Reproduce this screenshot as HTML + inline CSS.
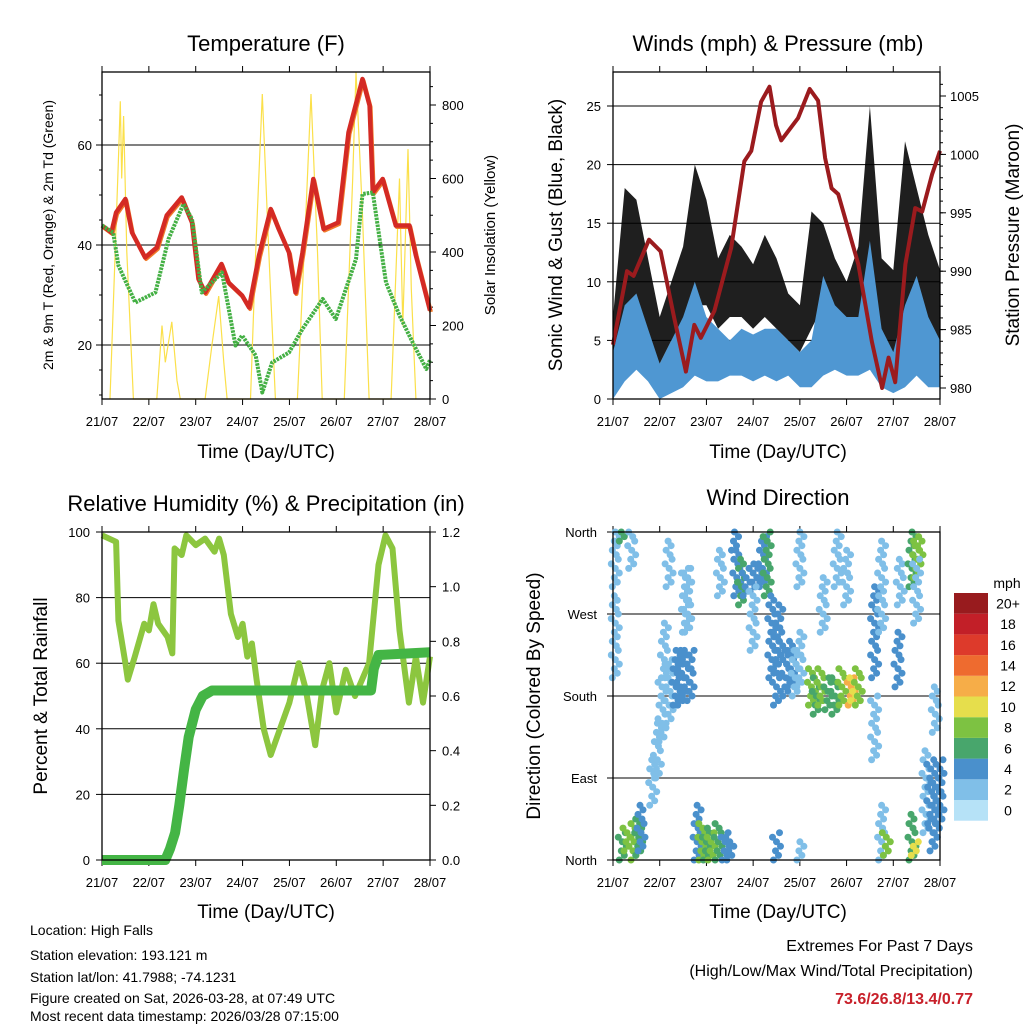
<!DOCTYPE html>
<html><head><meta charset="utf-8"><style>
html,body{margin:0;padding:0;background:#fff;}
svg{display:block;font-family:"Liberation Sans",sans-serif;}
</style></head><body>
<svg id="s" width="1024" height="1024" viewBox="0 0 1024 1024" xmlns="http://www.w3.org/2000/svg">
<rect width="1024" height="1024" fill="#fff"/>
<g id="g1"></g>
<g id="g2"></g>
<g id="g3"></g>
<g id="g4"></g>
<text x="266" y="51" font-size="22" text-anchor="middle">Temperature (F)</text>
<text x="778" y="51" font-size="22" text-anchor="middle">Winds (mph) &amp; Pressure (mb)</text>
<text x="266" y="511" font-size="22" text-anchor="middle">Relative Humidity (%) &amp; Precipitation (in)</text>
<text x="778" y="505" font-size="22" text-anchor="middle">Wind Direction</text>
<text x="266" y="458" font-size="19" text-anchor="middle">Time (Day/UTC)</text>
<text x="778" y="458" font-size="19" text-anchor="middle">Time (Day/UTC)</text>
<text x="266" y="918" font-size="19" text-anchor="middle">Time (Day/UTC)</text>
<text x="778" y="918" font-size="19" text-anchor="middle">Time (Day/UTC)</text>
<text transform="translate(53,235) rotate(-90)" font-size="14" text-anchor="middle">2m &amp; 9m T (Red, Orange) &amp; 2m Td (Green)</text>
<text transform="translate(495,235) rotate(-90)" font-size="15" text-anchor="middle">Solar Insolation (Yellow)</text>
<text transform="translate(562,235) rotate(-90)" font-size="19" text-anchor="middle">Sonic Wind &amp; Gust (Blue, Black)</text>
<text transform="translate(1019,235) rotate(-90)" font-size="19" text-anchor="middle">Station Pressure (Maroon)</text>
<text transform="translate(47,696) rotate(-90)" font-size="19" text-anchor="middle">Percent &amp; Total Rainfall</text>
<text transform="translate(540,696) rotate(-90)" font-size="19" text-anchor="middle">Direction (Colored By Speed)</text>
<g font-size="14">
<text x="30" y="935">Location: High Falls</text>
<text x="30" y="960">Station elevation: 193.121 m</text>
<text x="30" y="982">Station lat/lon: 41.7988; -74.1231</text>
<text x="30" y="1003">Figure created on Sat, 2026-03-28, at 07:49 UTC</text>
<text x="30" y="1021">Most recent data timestamp: 2026/03/28 07:15:00</text>
</g>
<g font-size="16" text-anchor="end">
<text x="973" y="951">Extremes For Past 7 Days</text>
<text x="973" y="976">(High/Low/Max Wind/Total Precipitation)</text>
<text x="973" y="1004" fill="#c8202a" font-weight="bold">73.6/26.8/13.4/0.77</text>
</g>
<text x="1007" y="588" font-size="14" text-anchor="middle">mph</text>
<g id="cb"></g>
</svg>
<script>
// ---- data ----
const dayLabels=["21/07","22/07","23/07","24/07","25/07","26/07","27/07","28/07"];
const tTemp=[0,0.2,0.3,0.5,0.64,0.92,1.17,1.38,1.7,1.92,2.06,2.2,2.55,2.7,2.99,3.14,3.35,3.6,3.77,3.99,4.13,4.28,4.51,4.73,5.04,5.26,5.56,5.71,5.78,5.99,6.27,6.56,6.7,7.0];
const temp=[43.9,42.5,46.5,49.2,42.5,37.5,39.5,45.9,49.5,44.5,33.2,30.5,36.2,32.5,29.9,27.5,37.9,47.2,43.2,38.5,30.5,38.5,53.2,43.2,44.5,62.5,73.2,67.9,50.5,53.2,43.9,43.9,37.9,26.9];
const tDew=[0,0.24,0.35,0.71,1.14,1.42,1.74,1.92,2.13,2.56,2.85,2.99,3.28,3.42,3.63,3.99,4.28,4.71,4.99,5.42,5.56,5.78,6.06,6.35,6.63,6.92,7.0];
const dew=[43.9,42.5,35.9,28.5,30.5,41.2,48.2,45.2,30.5,34.5,19.9,21.9,17.9,10.5,16.5,18.5,23.2,29.2,25.2,37.2,50.2,50.5,32.5,25.9,20.5,15.2,17.0];
const tSolar=[0.17,0.35,0.39,0.42,0.46,0.53,0.67,1.17,1.28,1.35,1.49,1.6,1.67,2.2,2.35,2.49,2.6,2.67,3.17,3.28,3.42,3.56,3.7,4.17,4.35,4.46,4.6,4.7,5.17,5.35,5.42,5.56,5.7,6.17,6.35,6.42,6.53,6.6,6.7];
const solar=[0,650,810,600,770,400,0,0,200,100,210,50,0,0,150,280,100,0,0,400,830,400,0,0,500,830,400,0,0,600,890,500,0,0,600,200,680,300,0];
const tWind=[0,.25,.5,.75,1,1.25,1.5,1.75,2,2.25,2.5,2.75,3,3.25,3.5,3.75,4,4.25,4.5,4.75,5,5.25,5.5,5.75,6,6.25,6.5,6.75,7];
const windHigh=[4,8,9,6,3,5,7,10,7,6,5,6,5.5,6,6,5,4,5,10.5,8,7,7,13.5,6,4,8,10.5,7,5];
const windLow=[0,1.5,2.5,1.5,0,0.5,1,2,1.5,1.5,2,2,1.5,2,1.5,2,1,1,2,2.5,2,2,2.5,1,0.5,1,2,1,1];
const gustHigh=[7,18,17,12,7,10,13,20,17,12,14,13,11.5,14,12,9,8,16,15,12,10,13,25,12,11,22,18,14,11];
const gustLow=[4,6,8,5,3,5,6,8,8,6,7,7,6,7,6,5,4,6,8,7,5,6,9,4,3,5,8,6,5];
const tPres=[0,0.3,0.44,0.77,1.02,1.31,1.56,1.74,1.88,2.17,2.53,2.81,2.96,3.17,3.35,3.49,3.6,3.96,4.21,4.39,4.54,4.68,4.82,5.25,5.54,5.76,5.9,6.04,6.26,6.47,6.62,6.83,7.0];
const pres=[983.7,990.0,989.6,992.7,991.7,986.0,981.4,985.4,984.3,986.6,992.0,999.4,1000.3,1004.5,1005.8,1002.5,1001.2,1003.1,1005.6,1004.6,999.7,997.1,996.6,990.6,984.0,980.0,982.6,980.5,990.6,995.4,995.1,998.3,1000.3];
const tRH=[0,0.3,0.35,0.5,0.55,0.7,0.9,1.0,1.1,1.2,1.4,1.5,1.55,1.7,1.8,2.0,2.2,2.4,2.5,2.6,2.75,2.9,3.0,3.1,3.2,3.3,3.45,3.6,3.75,4.0,4.2,4.35,4.55,4.7,4.85,5.0,5.2,5.4,5.55,5.7,5.9,6.05,6.2,6.35,6.55,6.7,6.85,7.0];
const rh=[99,97,73,60,55,62,72,70,78,72,68,63,95,93,99,96,98,94,98,93,75,68,72,62,66,55,40,32,38,48,60,52,35,52,60,45,58,50,55,60,90,99,95,70,48,62,48,62];
const tRain=[0,1.35,1.45,1.56,1.65,1.75,1.85,2.0,2.15,2.35,5.74,5.8,5.9,7.0];
const rain=[0,0,0.04,0.1,0.2,0.33,0.45,0.55,0.6,0.62,0.62,0.7,0.75,0.76];
// wind direction: columns of observations (time, dir from, dir to, speed mph)
const dirT=[.05,.05,.2,.3,.45,.55,.6,.2,.85,.95,1.05,1.1,1.2,1.2,1.35,1.45,1.55,1.65,1.55,1.6,1.8,1.9,2.0,2.1,2.25,2.4,2.5,2.6,2.65,2.75,2.85,3.0,3.1,3.2,3.3,3.4,3.5,3.55,3.7,3.8,3.9,4.0,3.5,4.0,4.0,4.25,4.35,4.45,4.6,4.75,4.9,5.1,5.15,5.25,4.8,5.0,5.6,5.6,5.75,5.75,5.85,6.1,6.15,6.4,6.5,6.55,6.4,6.45,6.5,6.7,6.8,6.9,7.0,6.85,6.9,0.4,2.3,3.0,4.5];
const dirFrom=[200,300,0,10,0,5,10,350,60,90,130,200,150,300,170,170,180,175,250,250,0,0,0,0,0,0,0,340,290,280,290,295,300,300,290,200,170,220,180,190,180,190,0,300,0,170,160,170,165,160,170,170,175,170,300,280,110,200,250,0,5,190,280,300,310,320,0,5,260,30,40,20,40,10,140,320,290,230,250];
const dirTo=[290,360,30,35,40,45,60,360,110,150,200,260,220,350,230,230,230,230,320,320,60,40,35,30,40,30,25,360,340,330,320,320,325,355,360,290,260,280,230,240,230,250,30,360,20,210,200,210,200,200,210,200,200,210,360,340,180,300,350,60,30,250,330,360,355,350,50,20,330,120,110,90,110,50,190,360,340,300,310];
const dirSpd=[1,1,6,8,7,6,3,6,1,1,1,2,2,1,4,4,4,4,2,2,4,7,6,8,6,4,4,4,4,6,4,4,4,4,6,4,4,3,4,3,2,2,4,2,2,7,6,8,5,6,7,12,10,7,1,2,2,3,2,2,8,4,2,6,8,7,6,10,2,2,3,4,3,4,2,1,2,1,1];
const spdLabels=["0","2","4","6","8","10","12","14","16","18","20+"];
const spdColors=["#b6e2f7","#80bfe8","#4a90cc","#48a66c","#7dc242","#e6de4c","#f6ad48","#ee6b2f","#dd3a2b","#c21f28","#981b1e"];
</script>
<script>
const NS="http://www.w3.org/2000/svg";
function mk(parent,tag,attrs){const e=document.createElementNS(NS,tag);for(const k in attrs)e.setAttribute(k,attrs[k]);parent.appendChild(e);return e;}
function txt(parent,x,y,s,anchor,size){const e=mk(parent,"text",{x:x,y:y,"font-size":size||13,"text-anchor":anchor});e.textContent=s;return e;}
function path(xs,ys){let d="";for(let i=0;i<xs.length;i++)d+=(i?"L":"M")+xs[i].toFixed(1)+","+ys[i].toFixed(1);return d;}
function xAxis(g,x0,x1,yb,yt){
  const sx=t=>x0+(x1-x0)*t/7;
  for(let i=0;i<dayLabels.length;i++){const x=sx(i);
    const tk=mk(g,"line",{x1:x,x2:x,y1:yb,y2:yb+6,stroke:"#000"});
    
    
    mk(g,"line",{x1:x,x2:x,y1:yt,y2:yt-6,stroke:"#000"});
    const l=txt(g,x,yb+27,dayLabels[i],"middle",13);
    
    
  }
  return sx;
}
function grid(g,x0,x1,y){mk(g,"line",{x1:x0,x2:x1,y1:y,y2:y,stroke:"#000","stroke-width":1});}
function frame(g,x0,y0,x1,y1){const r=mk(g,"rect",{x:x0,y:y0,width:x1-x0,height:y1-y0,fill:"none",stroke:"#000","stroke-width":1.3});
 
 }
function band(g,xs,hi,lo,fill,op){let d=path(xs,hi);for(let i=xs.length-1;i>=0;i--)d+="L"+xs[i].toFixed(1)+","+lo[i].toFixed(1);d+="Z";return mk(g,"path",{d:d,fill:fill,"fill-opacity":op});}

// Panel 1 temperature
(function(){const g=document.getElementById("g1");const x0=102,x1=430,y0=72,y1=399;
 const sx=xAxis(g,x0,x1,y1,y0);const yT=v=>245-(v-40)*5;const yS=v=>399-v*0.3675;
 [20,40,60].forEach(v=>{grid(g,x0,x1,yT(v));mk(g,"line",{x1:x0,x2:x0-6,y1:yT(v),y2:yT(v),stroke:"#000"});const l=txt(g,x0-10,yT(v)+5,v,"end");});
 for(let v=10;v<=70;v+=5){mk(g,"line",{x1:x0,x2:x0-3,y1:yT(v),y2:yT(v),stroke:"#000"});}
 [0,200,400,600,800].forEach(v=>{mk(g,"line",{x1:x1,x2:x1+6,y1:yS(v),y2:yS(v),stroke:"#000"});const l=txt(g,x1+12,yS(v)+5,v,"start");});
 for(let v=0;v<=850;v+=50)mk(g,"line",{x1:x1,x2:x1+3,y1:yS(v),y2:yS(v),stroke:"#000"});
 const s=mk(g,"path",{d:path(tSolar.map(sx),solar.map(yS)),fill:"none",stroke:"#fbe04a","stroke-width":1.2});
 
 const o=mk(g,"path",{d:path(tTemp.map(t=>sx(t)+1),temp.map(v=>yT(v)+1.5)),fill:"none",stroke:"#f07a2a","stroke-width":4,"stroke-linejoin":"round"});
 
 const r=mk(g,"path",{d:path(tTemp.map(sx),temp.map(yT)),fill:"none",stroke:"#d42a24","stroke-width":4.5,"stroke-linejoin":"round"});
 
 const d=mk(g,"path",{d:path(tDew.map(sx),dew.map(yT)),fill:"none",stroke:"#44b044","stroke-width":4,"stroke-dasharray":"2.5 1","stroke-linejoin":"round"});
 
 frame(g,x0,y0,x1,y1);})();

// Panel 2 winds
(function(){const g=document.getElementById("g2");const x0=613,x1=940,y0=72,y1=399;
 const sx=xAxis(g,x0,x1,y1,y0);const yW=v=>399-v*11.72;const yP=v=>388-(v-980)*11.68;
 [5,10,15,20,25].forEach(v=>grid(g,x0,x1,yW(v)));
 [0,5,10,15,20,25].forEach(v=>{mk(g,"line",{x1:x0,x2:x0-6,y1:yW(v),y2:yW(v),stroke:"#000"});const l=txt(g,x0-12,yW(v)+5,v,"end");});
 [980,985,990,995,1000,1005].forEach(v=>{mk(g,"line",{x1:x1,x2:x1+6,y1:yP(v),y2:yP(v),stroke:"#000"});const l=txt(g,x1+10,yP(v)+5,v,"start");});
 for(let v=980;v<=1006;v++)mk(g,"line",{x1:x1,x2:x1+3,y1:yP(v),y2:yP(v),stroke:"#000"});
 const xs=tWind.map(sx);
 const gb=band(g,xs,gustHigh.map(yW),gustLow.map(yW),"#000",0.88);
 
 const wb=band(g,xs,windHigh.map(yW),windLow.map(yW),"#4f97d2",1);
 
 const p=mk(g,"path",{d:path(tPres.map(sx),pres.map(yP)),fill:"none",stroke:"#9b1b1e","stroke-width":4,"stroke-linejoin":"round"});
 
 frame(g,x0,y0,x1,y1);})();

// Panel 3 RH
(function(){const g=document.getElementById("g3");const x0=102,x1=430,y0=532,y1=860;
 const sx=xAxis(g,x0,x1,y1,y0);const yR=v=>860-v*3.28;const yQ=v=>860-v/1.2*328;
 [20,40,60,80].forEach(v=>grid(g,x0,x1,yR(v)));
 [0,20,40,60,80,100].forEach(v=>{mk(g,"line",{x1:x0,x2:x0-6,y1:yR(v),y2:yR(v),stroke:"#000"});const l=txt(g,x0-12,yR(v)+5,v,"end");});
 [0,0.2,0.4,0.6,0.8,1.0,1.2].forEach(v=>{mk(g,"line",{x1:x1,x2:x1+6,y1:yQ(v),y2:yQ(v),stroke:"#000"});const l=txt(g,x1+12,yQ(v)+5,v.toFixed(1),"start");});
 const r=mk(g,"path",{d:path(tRH.map(sx),rh.map(yR)),fill:"none",stroke:"#8cc63f","stroke-width":6,"stroke-linejoin":"round"});
 
 const q=mk(g,"path",{d:path(tRain.map(sx),rain.map(yQ)),fill:"none",stroke:"#44b545","stroke-width":10,"stroke-linejoin":"round"});
 
 frame(g,x0,y0,x1,y1);})();

// Panel 4 wind direction
(function(){const g=document.getElementById("g4");const x0=613,x1=940,y0=532,y1=860;
 const sx=xAxis(g,x0,x1,y1,y0);const yD=v=>860-v/360*328;
 const names=["North","East","South","West","North"];
 [0,90,180,270,360].forEach((v,i)=>{grid(g,x0,x1,yD(v));mk(g,"line",{x1:x0,x2:x0-6,y1:yD(v),y2:yD(v),stroke:"#000"});const l=txt(g,x0-16,yD(v)+5,names[i],"end");});
 const ci=s=>Math.min(10,Math.round(s/2));
 const offs=[-3,2,-1,4,0,-4,3,1];
 for(let i=0;i<dirT.length;i++){const x=sx(dirT[i]);let k=0;
  for(let d=dirFrom[i];d<=dirTo[i];d+=5,k++){
   const c=mk(g,"circle",{cx:(x+offs[k%8]).toFixed(1),cy:yD(d).toFixed(1),r:3.5,fill:spdColors[ci(dirSpd[i])]});
   
   
  }}
 frame(g,x0,y0,x1,y1);})();

// colorbar
(function(){const g=document.getElementById("cb");const x=954,w=34,top=593,h=20.7;
 for(let i=0;i<spdLabels.length;i++){const y=top+(spdLabels.length-1-i)*h;
  const r=mk(g,"rect",{x:x,y:y,width:w,height:h,fill:spdColors[i]});
  
  const l=txt(g,1008,y+h/2+5,spdLabels[i],"middle",14);
  }})();
</script>
</body></html>
